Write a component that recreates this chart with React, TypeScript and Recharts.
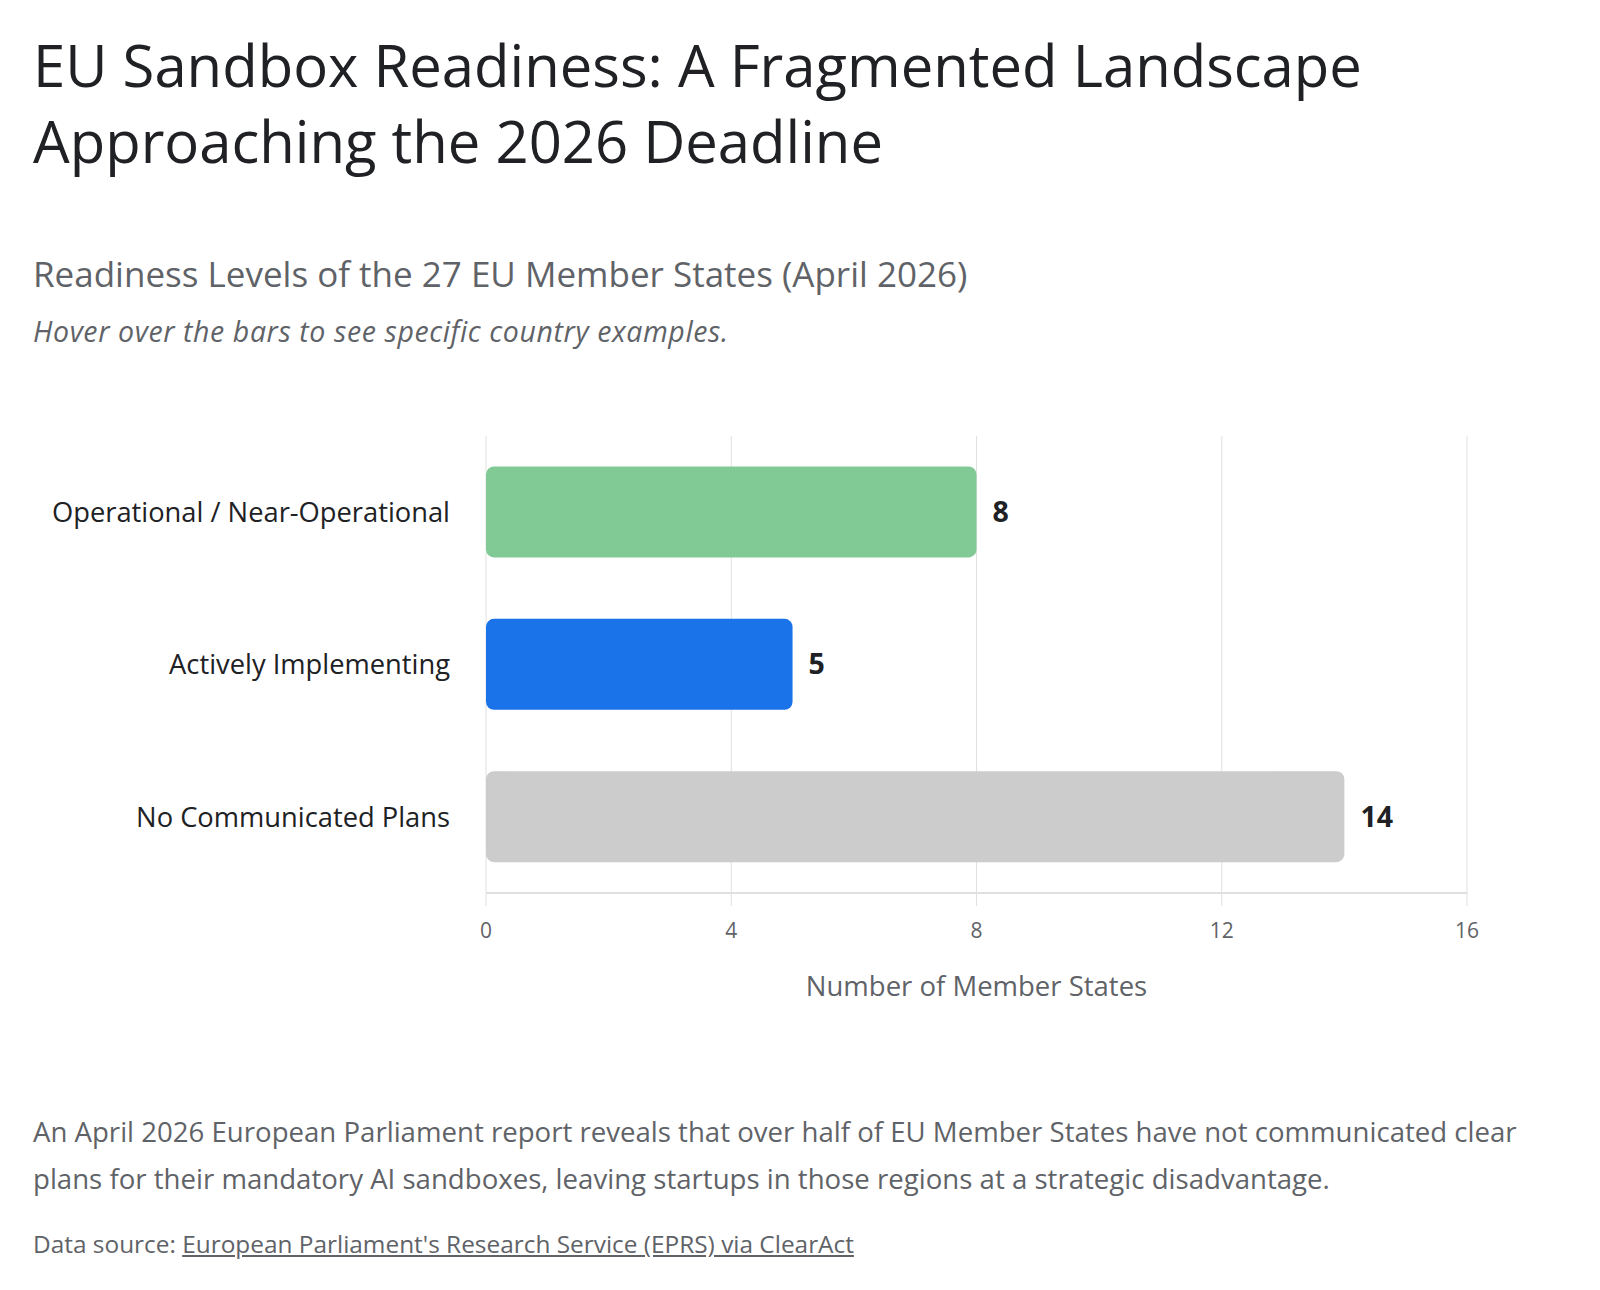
import { BarChart, Bar, Cell, XAxis, YAxis, CartesianGrid, LabelList } from "recharts";

const categories = ["Operational / Near-Operational", "Actively Implementing", "No Communicated Plans"];
const memberStates = [8, 5, 14];
const barColors = ["#81c995", "#1a73e8", "#cccccc"];
const xTicks = [0, 4, 8, 12, 16];

const data = categories.map((name, i) => ({ name, value: memberStates[i] }));

const font = "'Open Sans', Roboto, sans-serif";

export default function App() {
  return (
    <div style={{ position: "absolute", left: 0, top: 0, width: 1600, height: 1290, background: "#fff", fontFamily: font }}>
      <h1
        style={{
          position: "absolute",
          left: 33,
          top: 27,
          margin: 0,
          fontSize: 58,
          lineHeight: "76px",
          fontWeight: 400,
          color: "#202124",
        }}
      >
        EU Sandbox Readiness: A Fragmented Landscape
        <br />
        Approaching the 2026 Deadline
      </h1>
      <div style={{ position: "absolute", left: 33, top: 250, fontSize: 35, color: "#5f6368" }}>
        Readiness Levels of the 27 EU Member States (April 2026)
      </div>
      <div
        style={{
          position: "absolute",
          left: 33,
          top: 312,
          fontSize: 28.5,
          letterSpacing: 0.6,
          color: "#5f6368",
          fontStyle: "italic",
        }}
      >
        Hover over the bars to see specific country examples.
      </div>

      {/* Chart */}
      <div style={{ position: "absolute", left: 0, top: 400 }}>
        <BarChart
          width={1600}
          height={620}
          data={data}
          layout="vertical"
          barCategoryGap="20%"
          margin={{ top: 36, right: 133, left: 0, bottom: 20 }}
        >
          <CartesianGrid horizontal={false} stroke="#e0e0e0" />
          <XAxis
            type="number"
            domain={[0, 16]}
            ticks={xTicks}
            height={107}
            axisLine={{ stroke: "#e0e0e0", strokeWidth: 2 }}
            tickLine={{ stroke: "#e0e0e0" }}
            tickSize={13}
            tickMargin={17}
            tick={{ fill: "#5f6368", fontSize: 21 }}
            label={{ value: "Number of Member States", position: "insideBottom", offset: 4, fill: "#5f6368", fontSize: 27.5 }}
          />
          <YAxis
            type="category"
            dataKey="name"
            width={486}
            axisLine={false}
            tickLine={false}
            tickSize={0}
            tickMargin={36}
            tick={{ fill: "#202124", fontSize: 27.3 }}
          />
          <Bar dataKey="value" radius={8} isAnimationActive={false}>
            {data.map((entry, index) => (
              <Cell key={`cell-${index}`} fill={barColors[index]} />
            ))}
            <LabelList dataKey="value" position="right" offset={16} fill="#202124" fontSize={28.5} fontWeight={700} />
          </Bar>
        </BarChart>
      </div>

      <div
        style={{
          position: "absolute",
          left: 33,
          top: 1108,
          width: 1535,
          fontSize: 27.6,
          lineHeight: "47px",
          color: "#5f6368",
        }}
      >
        An April 2026 European Parliament report reveals that over half of EU Member States have not communicated clear plans
        for their mandatory AI sandboxes, leaving startups in those regions at a strategic disadvantage.
      </div>
      <div style={{ position: "absolute", left: 33, top: 1227, fontSize: 24.4, color: "#5f6368" }}>
        Data source:{" "}
        <span style={{ textDecoration: "underline" }}>European Parliament's Research Service (EPRS) via ClearAct</span>
      </div>
    </div>
  );
}
